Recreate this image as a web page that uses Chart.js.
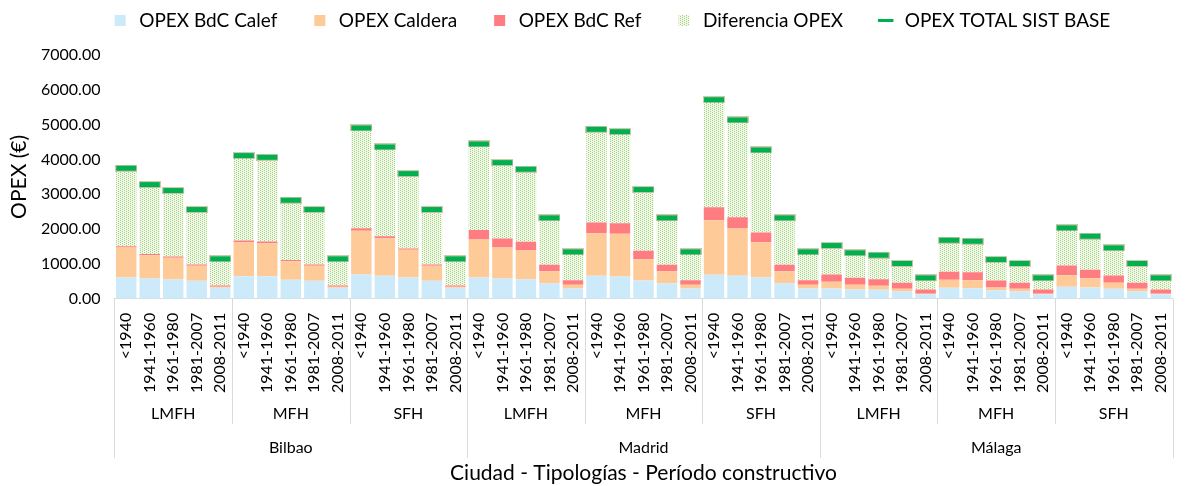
<!DOCTYPE html>
<html>
<head>
<meta charset="utf-8">
<script src="https://cdn.jsdelivr.net/npm/chart.js@4/dist/chart.umd.min.js"></script>
<style>
  html, body { margin: 0; padding: 0; background: #fff; overflow: hidden; }
</style>
</head>
<body>
<canvas id="opexChart" width="1186" height="486"></canvas>
<script>
// Category levels
const cities = ['Bilbao', 'Madrid', 'Málaga'];
const typologies = ['LMFH', 'MFH', 'SFH'];
const periods = ['<1940', '1941-1960', '1961-1980', '1981-2007', '2008-2011'];

// Series values (€), 45 bars: city > typology > period
const opexCalef = [611, 583, 555, 516, 316, 650, 650, 545, 516, 316, 698, 660, 611, 516, 316,
                   611, 583, 564, 449, 296, 660, 641, 526, 449, 296, 688, 660, 611, 449, 296,
                   296, 267, 258, 210, 134, 316, 306, 249, 210, 134, 344, 325, 287, 210, 134];
const opexCaldera = [861, 670, 621, 431, 28, 975, 947, 535, 431, 28, 1253, 1081, 795, 431, 28,
                     1091, 889, 823, 345, 106, 1224, 1224, 612, 345, 106, 1569, 1357, 1014, 345, 106,
                     192, 135, 115, 77, 9, 229, 229, 76, 77, 9, 335, 268, 172, 77, 9];
const opexRef = [39, 37, 38, 38, 38, 49, 48, 35, 35, 38, 76, 57, 38, 38, 38,
                 277, 259, 248, 181, 133, 306, 306, 239, 181, 133, 373, 326, 278, 181, 133,
                 209, 200, 191, 172, 124, 230, 230, 201, 172, 124, 277, 239, 210, 172, 124];
const diferencia = [2238, 1990, 1894, 1578, 766, 2438, 2419, 1716, 1581, 766, 2878, 2562, 2152, 1578, 766,
                    2467, 2180, 2085, 1349, 813, 2677, 2629, 1760, 1349, 813, 3087, 2792, 2371, 1349, 813,
                    833, 718, 689, 555, 335, 908, 889, 602, 555, 335, 1081, 966, 794, 555, 335];
const totalBase = [3749, 3280, 3108, 2563, 1148, 4112, 4064, 2831, 2563, 1148, 4905, 4360, 3596, 2563, 1148,
                   4446, 3911, 3720, 2324, 1348, 4867, 4800, 3137, 2324, 1348, 5717, 5135, 4274, 2324, 1348,
                   1530, 1320, 1253, 1014, 602, 1683, 1654, 1128, 1014, 602, 2037, 1798, 1463, 1014, 602];

const yTicks = [0, 1000, 2000, 3000, 4000, 5000, 6000, 7000];

// build the flat label list
const labels = [];
cities.forEach(c => typologies.forEach(t => periods.forEach(p => labels.push(p))));

const FONT = 'Lato, "Open Sans", sans-serif';

// dotted green fill for "Diferencia OPEX"
function makePattern() {
    const c = document.createElement('canvas');
    c.width = 4; c.height = 4;
    const g = c.getContext('2d');
    g.fillStyle = '#f1f8ea';
    g.fillRect(0, 0, 4, 4);
    g.fillStyle = '#a3d47d';
    [[0, 0], [0, 2], [2, 1], [2, 3]].forEach(d => g.fillRect(d[0], d[1], 1, 1));
    return g.createPattern(c, 'repeat');
}

// dash marker for the base total
function makeMarker() {
    const c = document.createElement('canvas');
    c.width = 22; c.height = 7;
    const g = c.getContext('2d');
    g.fillStyle = '#cfc9a8';
    g.fillRect(0, 0, 22, 7);
    g.fillStyle = '#00b050';
    g.fillRect(1, 1, 20, 5);
    return c;
}

// a bit more room under the legend
const legendGap = {
    id: 'legendGap',
    beforeInit(chart) {
        const fit = chart.legend.fit;
        chart.legend.fit = function () {
            fit.call(this);
            this.height += 15;
        };
    }
};

// draws the y title, typology / city rows, separators and the x title
const groupLabels = {
    id: 'groupLabels',
    afterDraw(chart) {
        const x = chart.scales.x;
        const ctx = chart.ctx;
        const top = x.top;
        const per = periods.length;
        const edge = i => i <= 0 ? x.left : (i >= labels.length ? x.right
            : (x.getPixelForValue(i - 1) + x.getPixelForValue(i)) / 2);
        ctx.save();
        ctx.strokeStyle = '#d9d9d9';
        ctx.lineWidth = 1;
        ctx.fillStyle = '#000';
        ctx.textAlign = 'center';
        ctx.textBaseline = 'middle';
        ctx.font = '16px ' + FONT;
        // typology groups
        for (let g = 0; g < cities.length * typologies.length; g++) {
            const a = edge(g * per), b = edge((g + 1) * per);
            ctx.fillText(typologies[g % typologies.length], (a + b) / 2, top + 115);
            if (g % typologies.length !== 0) {
                ctx.beginPath();
                ctx.moveTo(Math.round(a) + 0.5, top);
                ctx.lineTo(Math.round(a) + 0.5, top + 125);
                ctx.stroke();
            }
        }
        // cities
        const cw = per * typologies.length;
        for (let c = 0; c <= cities.length; c++) {
            const a = edge(c * cw);
            ctx.beginPath();
            ctx.moveTo(Math.round(a) + 0.5, top);
            ctx.lineTo(Math.round(a) + 0.5, top + 159);
            ctx.stroke();
            if (c < cities.length) {
                const b = edge((c + 1) * cw);
                ctx.fillText(cities[c], (a + b) / 2, top + 149);
            }
        }
        ctx.font = '21px ' + FONT;
        ctx.fillText('Ciudad - Tipologías - Período constructivo', (x.left + x.right) / 2, top + 174);
        // y title
        const area = chart.chartArea;
        ctx.translate(19, (area.top + area.bottom) / 2);
        ctx.rotate(-Math.PI / 2);
        ctx.fillText('OPEX (€)', 0, 0);
        ctx.restore();
    }
};

const ctx = document.getElementById('opexChart').getContext('2d');
const pattern = makePattern();

new Chart(ctx, {
    type: 'bar',
    data: {
        labels: labels,
        datasets: [
            { label: 'OPEX BdC Calef', data: opexCalef, backgroundColor: '#cdeafb', stack: 'opex', order: 1 },
            { label: 'OPEX Caldera', data: opexCaldera, backgroundColor: '#fecb98', stack: 'opex', order: 1 },
            { label: 'OPEX BdC Ref', data: opexRef, backgroundColor: '#ff7c80', stack: 'opex', order: 1 },
            { label: 'Diferencia OPEX', data: diferencia, backgroundColor: pattern, stack: 'opex', order: 1 },
            {
                label: 'OPEX TOTAL SIST BASE', type: 'line', data: totalBase, stack: 'base', order: 0,
                showLine: false, pointStyle: makeMarker(), borderColor: '#00b050', backgroundColor: '#00b050'
            }
        ]
    },
    options: {
        responsive: false,
        animation: false,
        barPercentage: 0.87,
        categoryPercentage: 1,
        layout: { padding: { left: 35, right: 0, top: -22, bottom: 87 } },
        plugins: {
            tooltip: { enabled: false },
            legend: {
                position: 'top',
                align: 'center',
                labels: {
                    usePointStyle: true,
                    boxHeight: 11,
                    padding: 33,
                    color: '#000',
                    font: { family: FONT, size: 19 },
                    sort: (a, b) => a.datasetIndex - b.datasetIndex,
                    generateLabels(chart) {
                        const items = Chart.defaults.plugins.legend.labels.generateLabels(chart);
                        items.forEach(it => {
                            if (it.datasetIndex === 4) {
                                it.pointStyle = 'line';
                                it.strokeStyle = '#00b050';
                                it.lineWidth = 3;
                            } else {
                                it.pointStyle = 'rect';
                                it.lineWidth = 0;
                            }
                        });
                        return items;
                    }
                }
            }
        },
        scales: {
            x: {
                stacked: true,
                grid: { display: false },
                border: { display: true, color: '#d9d9d9' },
                ticks: {
                    autoSkip: false,
                    minRotation: 90,
                    maxRotation: 90,
                    padding: 6,
                    color: '#000',
                    font: { family: FONT, size: 16 }
                }
            },
            y: {
                stacked: true,
                min: 0,
                max: yTicks[yTicks.length - 1],
                afterBuildTicks: axis => { axis.ticks = yTicks.map(v => ({ value: v })); },
                grid: { display: false },
                border: { display: false },
                ticks: {
                    padding: 6,
                    color: '#000',
                    font: { family: FONT, size: 16 },
                    callback: v => v.toFixed(2)
                }
            }
        }
    },
    plugins: [legendGap, groupLabels]
});
</script>
</body>
</html>
